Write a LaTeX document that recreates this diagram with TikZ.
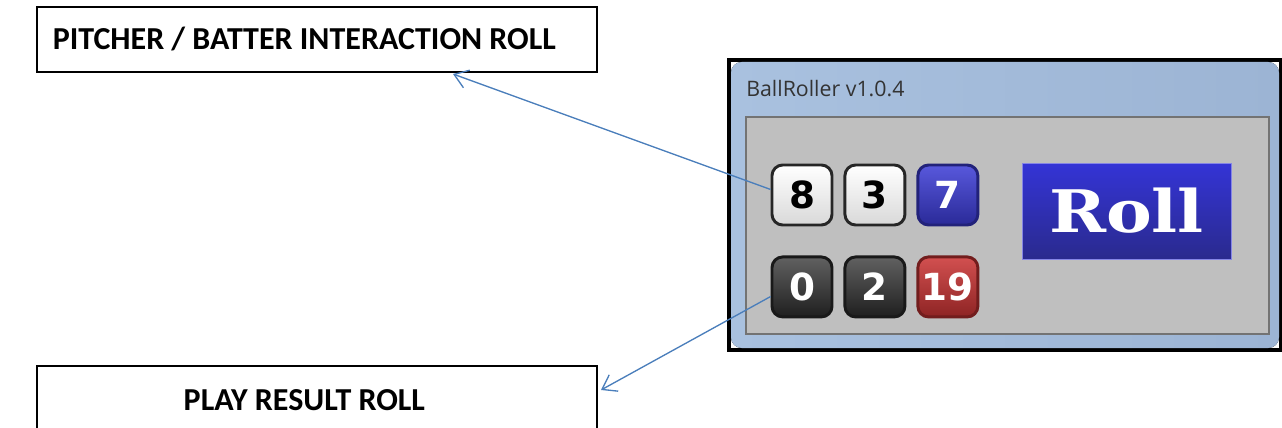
\documentclass[tikz,border=0pt]{standalone}
\usepackage{fontspec}
\setmainfont{Carlito}
\newfontfamily\dicefont{DejaVu Sans}
\newfontfamily\rollfont{DejaVu Serif}
\newfontfamily\winfont{Open Sans}
\usetikzlibrary{positioning,arrows.meta}
\definecolor{linkblue}{HTML}{4A7EBB}
\definecolor{frameA}{HTML}{A9C1DF}
\definecolor{frameB}{HTML}{9CB4D4}
\definecolor{dieblueA}{HTML}{5858DC}
\definecolor{dieblueB}{HTML}{2A2A98}
\definecolor{dieredA}{HTML}{D25050}
\definecolor{dieredB}{HTML}{8E2424}
\definecolor{rollA}{HTML}{3434D6}
\definecolor{rollB}{HTML}{2A2A8E}

\begin{document}
\begin{tikzpicture}[x=0.75pt, y=-0.75pt,
    labelbox/.style = {draw, line width=2.2pt, minimum width=420pt, inner sep=0pt,
      font=\bfseries\fontsize{24}{29}\selectfont},
    die/.style = {rounded corners=8pt, minimum size=45pt, inner sep=0pt, line width=2.2pt,
      font=\dicefont\bfseries\fontsize{28}{32}\selectfont},
    whitedie/.style = {die, draw=black!85, top color=white, bottom color=black!15, text=black},
    blackdie/.style = {die, draw=black!90, top color=black!62, bottom color=black!88, text=white},
    bluedie/.style = {die, draw=dieblueB!80!black, top color=dieblueA, bottom color=dieblueB, text=white},
    reddie/.style = {die, draw=dieredB!80!black, top color=dieredA, bottom color=dieredB, text=white},
    rollbtn/.style = {draw=rollA!60!white, line width=0.5pt, top color=rollA, bottom color=rollB,
      minimum width=156.75pt, minimum height=72pt, text=white,
      font=\rollfont\bfseries\fontsize{44}{48}\selectfont},
    link/.style = {draw=linkblue, line width=1pt, >={Straight Barb[length=10pt, width=14pt]}},
    node distance=21.75pt and 7.5pt]
  \useasboundingbox (0,0) rectangle (1282,428);
  %
  \node[labelbox, minimum height=48.75pt] (pitch) at (317,39.5) {PITCHER / BATTER INTERACTION ROLL\kern19pt};
  \node[labelbox, minimum height=51pt] (result) at (317,400) {PLAY RESULT ROLL\kern19pt};
  %
  \draw[line width=2.5pt] (729,60) rectangle (1281,350);
  \fill[rounded corners=8pt, left color=frameA, right color=frameB] (731,62) rectangle (1279,348);
  \node[anchor=west, inner sep=0pt, text=black!80, font=\winfont\fontsize{16}{18}\selectfont] (title) at (746,89) {BallRoller v1.0.4};
  \draw[draw=black!55, line width=1.5pt, fill=black!25] (746,117) rectangle (1269,334);
  %
  \node[whitedie] (8) at (802,195) {8};
  \node[whitedie] (3) [right=of 8] {3};
  \node[bluedie] (7) [right=of 3] {7};
  \node[blackdie] (0) [below=of 8] {0};
  \node[blackdie] (2) [right=of 0] {2};
  \node[reddie] (19) [right=of 2] {19};
  \node[rollbtn] (roll) at (1126.5,211) {\scalebox{1.17}[1]{Roll}};
  %
  \coordinate (tip1) at (453,74);
  \coordinate (tip2) at (601,390);
  \draw[link, <-] (tip1) -- (8.170);
  \draw[link, <-] (tip2) -- (0.197);
\end{tikzpicture}
\end{document}
